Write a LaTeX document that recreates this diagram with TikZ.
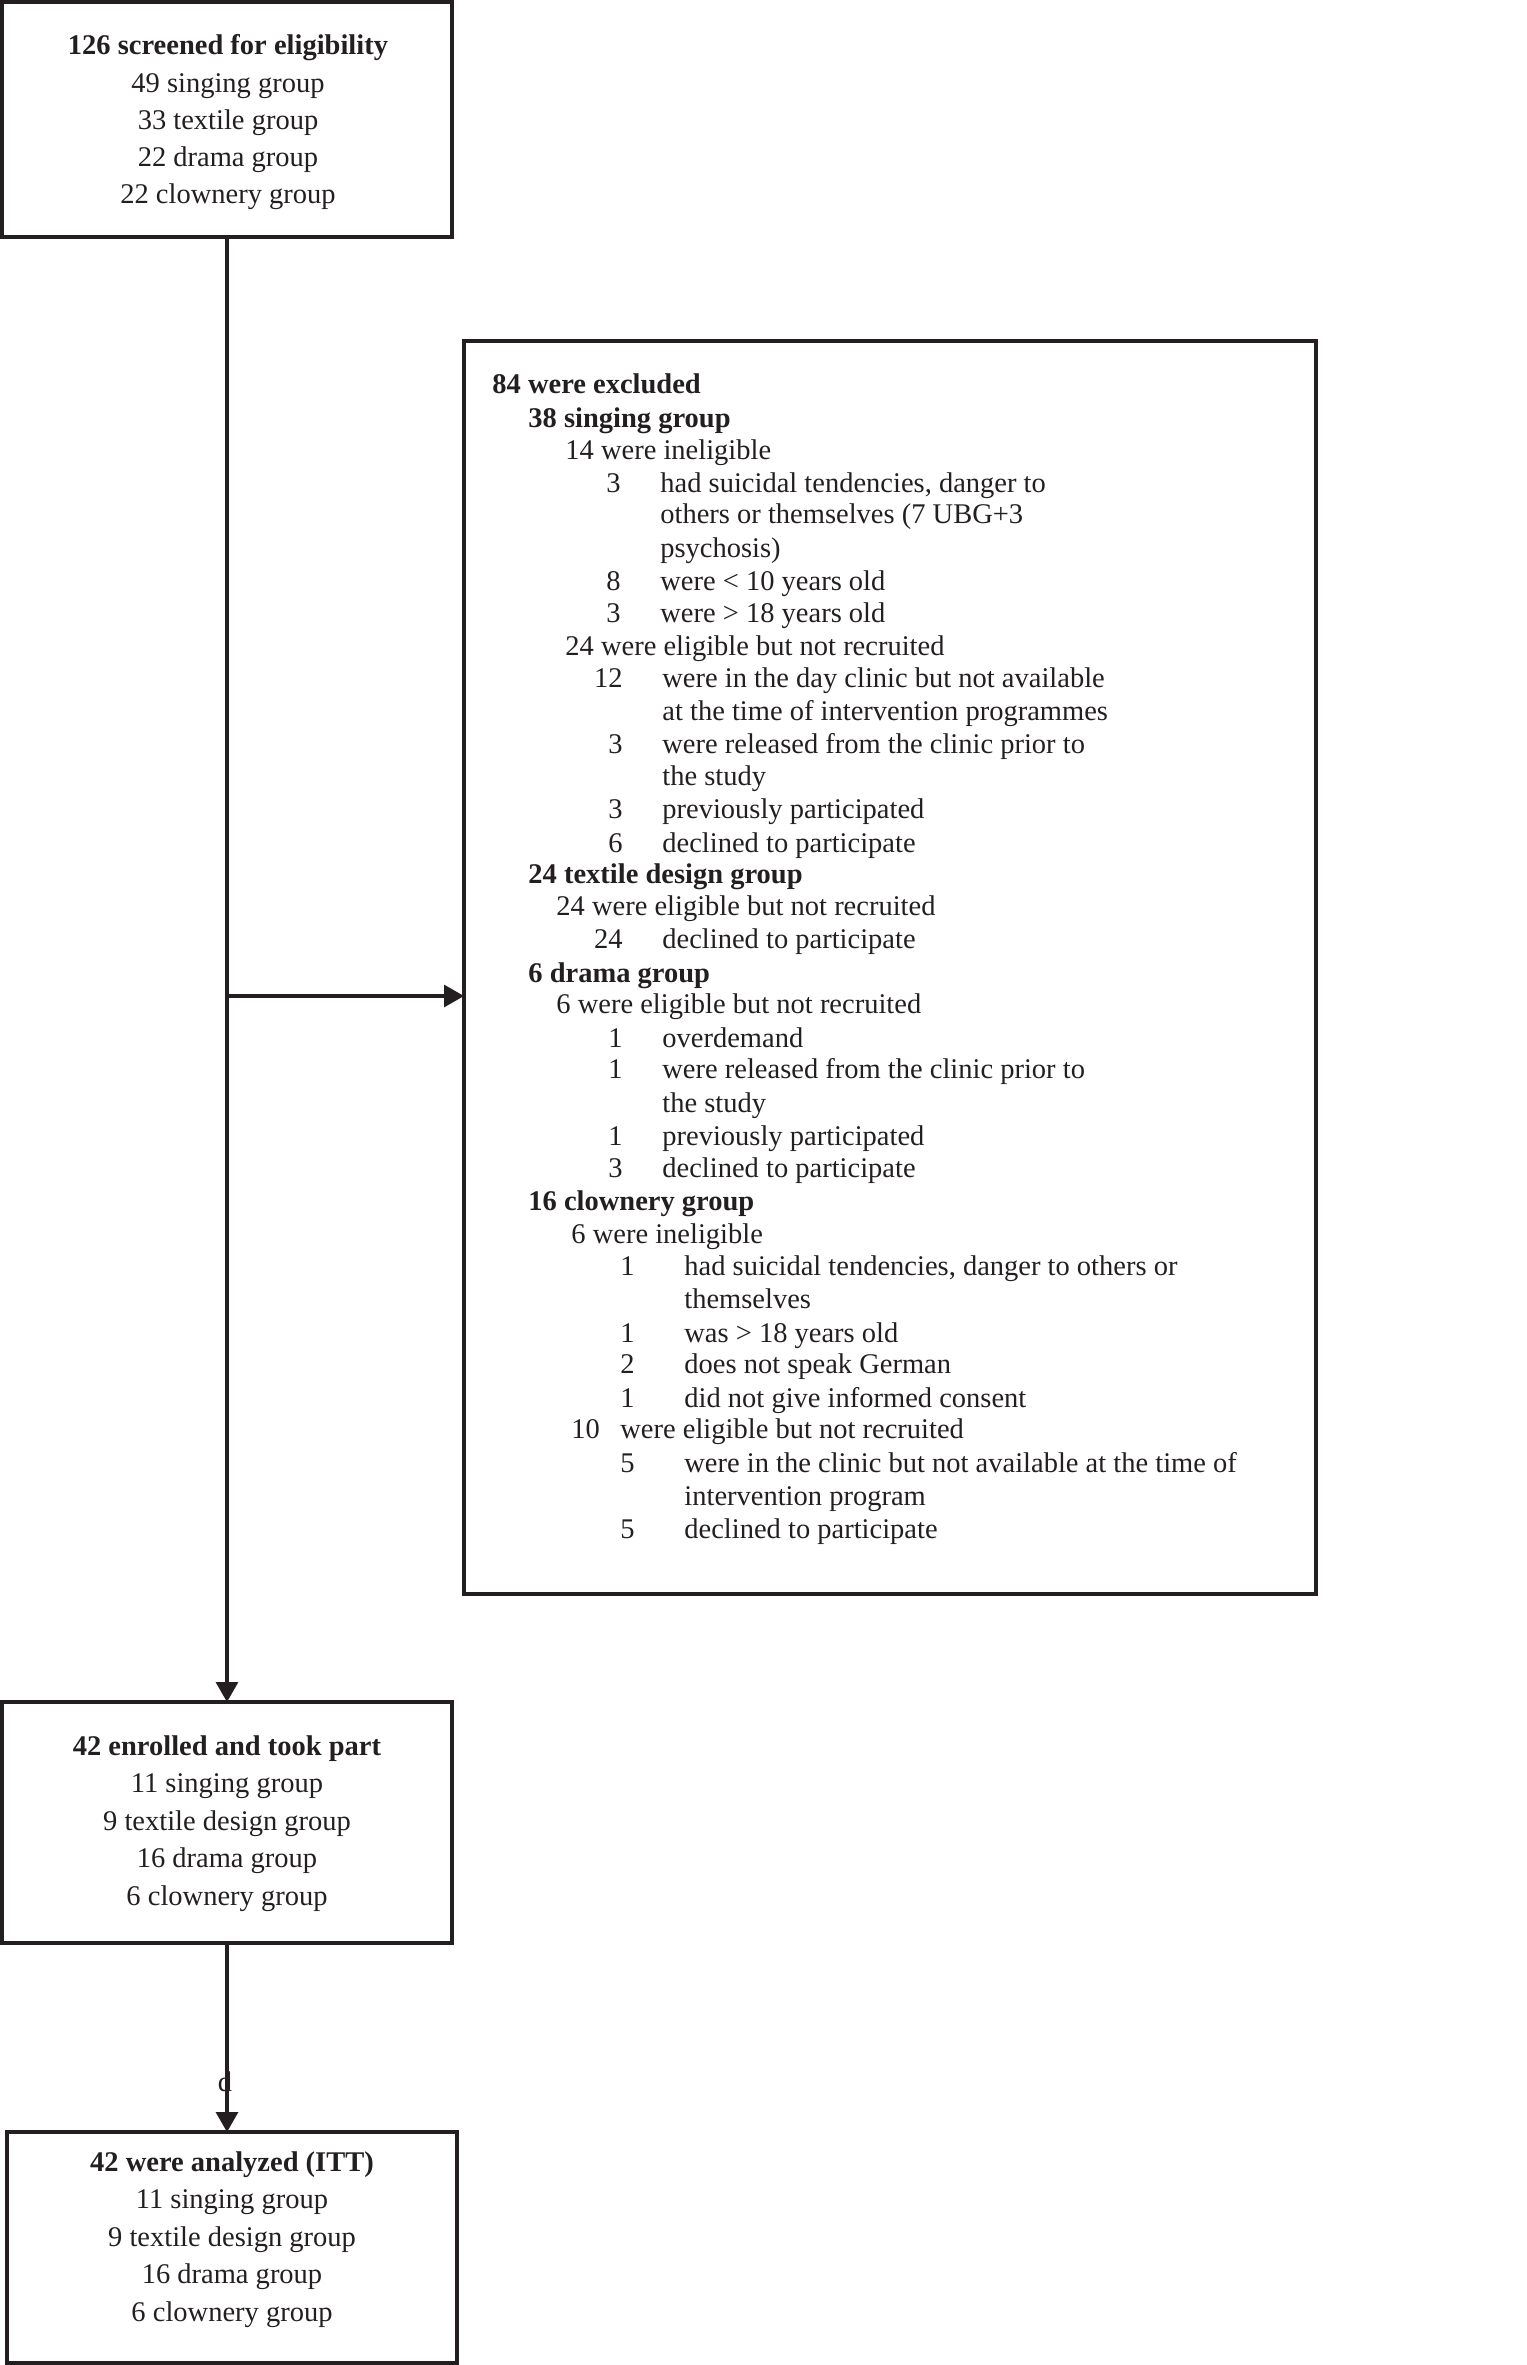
\documentclass[tikz,border=0pt]{standalone}
\usepackage{fontspec}
\setmainfont{Liberation Serif}
\usetikzlibrary{arrows.meta}
\definecolor{ink}{RGB}{35,31,32}
\begin{document}
\begin{tikzpicture}[x=0.5pt,y=-0.5pt, color=ink,
  every node/.style={font=\fontsize{14.25pt}{16pt}\selectfont, inner sep=0pt, text=ink},
  box/.style={draw=ink, line width=1.6pt, anchor=north west, rectangle, outer sep=0pt},
  arr/.style={draw=ink, line width=1.6pt, -{Triangle[length=10pt,width=11pt]}},
  ctr/.style={anchor=base},
  lft/.style={anchor=base west},
  num/.style={anchor=base east},
  bf/.style={font=\fontsize{14.25pt}{16pt}\selectfont\bfseries}]
\useasboundingbox (0,0) rectangle (1526,2365);

% boxes
\node[box, minimum width=225pt, minimum height=117.5pt] (b1) at (2,2) {};
\node[box, minimum width=426pt, minimum height=626.5pt] (b2) at (464,341) {};
\node[box, minimum width=225pt, minimum height=120.5pt] (b3) at (2,1702) {};
\node[box, minimum width=225pt, minimum height=115.5pt] (b4) at (7,2132) {};

% box 1 text
\node[ctr,bf] (t11) at (228,55) {126 screened for eligibility};
\node[ctr] (t12) at (228,93) {49 singing group};
\node[ctr] (t13) at (228,130) {33 textile group};
\node[ctr] (t14) at (228,167) {22 drama group};
\node[ctr] (t15) at (228,204) {22 clownery group};

% box 3 text
\node[ctr,bf] (t31) at (227,1755) {42 enrolled and took part};
\node[ctr] (t32) at (227,1792) {11 singing group};
\node[ctr] (t33) at (227,1830) {9 textile design group};
\node[ctr] (t34) at (227,1867) {16 drama group};
\node[ctr] (t35) at (227,1905) {6 clownery group};

% box 4 text
\node[ctr,bf] (t41) at (232,2171) {42 were analyzed (ITT)};
\node[ctr] (t42) at (232,2208) {11 singing group};
\node[ctr] (t43) at (232,2246) {9 textile design group};
\node[ctr] (t44) at (232,2283) {16 drama group};
\node[ctr] (t45) at (232,2321) {6 clownery group};

% box 2 text
\node[lft,bf] (x01) at (492,393) {84 were excluded};
\node[lft,bf] (x02) at (528,427) {38 singing group};
\node[lft] (x03) at (565,459) {14 were ineligible};
\node[num] (n04) at (621,492) {3};
\node[lft] (x04) at (660,492) {had suicidal tendencies, danger to};
\node[lft] (x05) at (660,523) {others or themselves (7 UBG+3};
\node[lft] (x06) at (660,557) {psychosis)};
\node[num] (n07) at (621,590) {8};
\node[lft] (x07) at (660,590) {were < 10 years old};
\node[num] (n08) at (621,622) {3};
\node[lft] (x08) at (660,622) {were > 18 years old};
\node[lft] (x09) at (565,655) {24 were eligible but not recruited};
\node[num] (n10) at (623,687) {12};
\node[lft] (x10) at (662,687) {were in the day clinic but not available};
\node[lft] (x11) at (662,720) {at the time of intervention programmes};
\node[num] (n12) at (623,753) {3};
\node[lft] (x12) at (662,753) {were released from the clinic prior to};
\node[lft] (x13) at (662,785) {the study};
\node[num] (n14) at (623,818) {3};
\node[lft] (x14) at (662,818) {previously participated};
\node[num] (n15) at (623,852) {6};
\node[lft] (x15) at (662,852) {declined to participate};
\node[lft,bf] (x16) at (528,883) {24 textile design group};
\node[lft] (x17) at (556,915) {24 were eligible but not recruited};
\node[num] (n18) at (623,948) {24};
\node[lft] (x18) at (662,948) {declined to participate};
\node[lft,bf] (x19) at (528,982) {6 drama group};
\node[lft] (x20) at (556,1013) {6 were eligible but not recruited};
\node[num] (n21) at (623,1047) {1};
\node[lft] (x21) at (662,1047) {overdemand};
\node[num] (n22) at (623,1078) {1};
\node[lft] (x22) at (662,1078) {were released from the clinic prior to};
\node[lft] (x23) at (662,1112) {the study};
\node[num] (n24) at (623,1145) {1};
\node[lft] (x24) at (662,1145) {previously participated};
\node[num] (n25) at (623,1177) {3};
\node[lft] (x25) at (662,1177) {declined to participate};
\node[lft,bf] (x26) at (528,1210) {16 clownery group};
\node[lft] (x27) at (571,1243) {6 were ineligible};
\node[num] (n28) at (635,1275) {1};
\node[lft] (x28) at (684,1275) {had suicidal tendencies, danger to others or};
\node[lft] (x29) at (684,1308) {themselves};
\node[num] (n30) at (635,1342) {1};
\node[lft] (x30) at (684,1342) {was > 18 years old};
\node[num] (n31) at (635,1373) {2};
\node[lft] (x31) at (684,1373) {does not speak German};
\node[num] (n32) at (635,1407) {1};
\node[lft] (x32) at (684,1407) {did not give informed consent};
\node[lft] (n33) at (571,1438) {10};
\node[lft] (x33) at (620,1438) {were eligible but not recruited};
\node[num] (n34) at (635,1472) {5};
\node[lft] (x34) at (684,1472) {were in the clinic but not available at the time of};
\node[lft] (x35) at (684,1505) {intervention program};
\node[num] (n36) at (635,1538) {5};
\node[lft] (x36) at (684,1538) {declined to participate};

% connectors
\coordinate (br) at (b1.south |- 0,996);
\draw[arr] (b1.south) -- (b3.north);
\draw[arr] (br) -- (br -| b2.west);
\draw[arr] (b3.south) -- (b3.south |- b4.north);

\node[ctr] (dd) at (225,2091) {d};
\end{tikzpicture}
\end{document}
